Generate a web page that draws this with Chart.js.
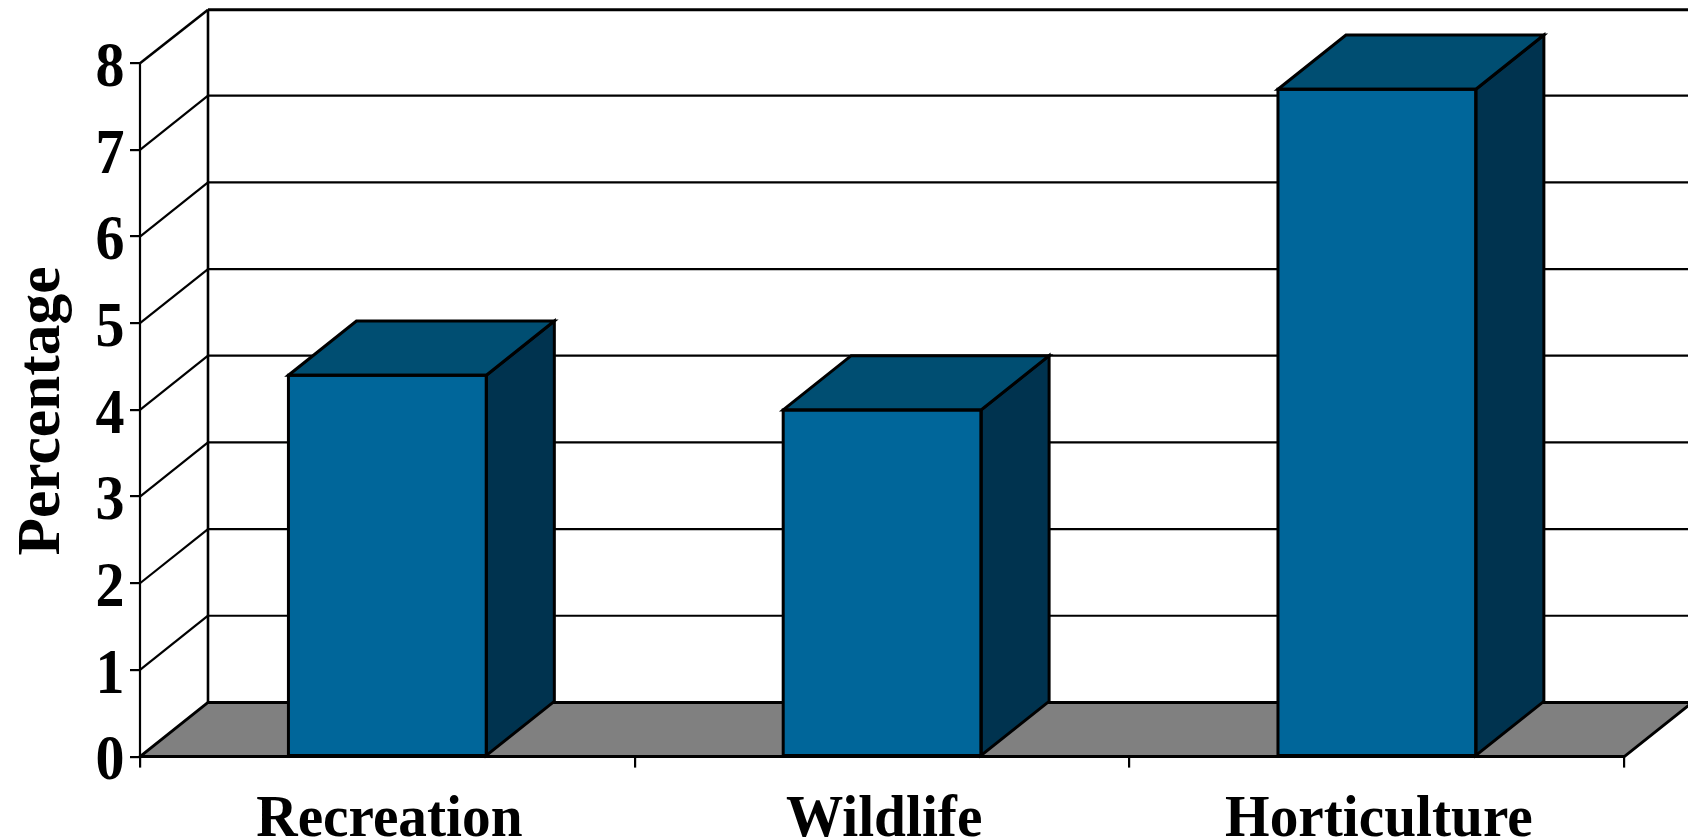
<!DOCTYPE html>
<html>
<head>
<meta charset="utf-8">
<title>Percentage by land use</title>
<script src="https://cdn.jsdelivr.net/npm/chart.js@4"></script>
<style>
  html, body { margin: 0; padding: 0; background: #fff; }
  canvas { display: block; }
</style>
</head>
<body>
<canvas id="useChart" width="1688" height="840"></canvas>
<script>
const categories = ['Recreation', 'Wildlife', 'Horticulture'];
const percentages = [4.4, 4.0, 7.7];
const yMax = 8;
const yStep = 1;
const yTitle = 'Percentage';

const FRONT = '#00669A';
const TOP = '#004E72';
const SIDE = '#00334F';
const FLOOR = '#808080';
const INK = '#000';
const SERIF = '"Liberation Serif"';

// how far the back wall sits behind the front plane
const DEPTH_X = 68;
const DEPTH_Y = 54.2;
const DEPTH_Y_CEILING = 53.5;

function poly(ctx, pts, fill, lw) {
  ctx.beginPath();
  pts.forEach((p, i) => i ? ctx.lineTo(p[0], p[1]) : ctx.moveTo(p[0], p[1]));
  ctx.closePath();
  if (fill) { ctx.fillStyle = fill; ctx.fill(); }
  ctx.lineWidth = lw;
  ctx.strokeStyle = INK;
  ctx.stroke();
}

function line(ctx, x1, y1, x2, y2, lw) {
  ctx.beginPath();
  ctx.moveTo(x1, y1);
  ctx.lineTo(x2, y2);
  ctx.lineWidth = lw;
  ctx.strokeStyle = INK;
  ctx.stroke();
}

// the label type runs a little taller than the font's own proportions
function tallText(ctx, text, x, y, size, stretch, align) {
  ctx.save();
  ctx.translate(x, y);
  ctx.scale(1, stretch);
  ctx.font = `bold ${size}px ${SERIF}`;
  ctx.fillStyle = INK;
  ctx.textAlign = align;
  ctx.textBaseline = 'alphabetic';
  ctx.fillText(text, 0, 0);
  ctx.restore();
}

const boxPlugin = {
  id: 'box3d',
  /* Back wall, side wall and floor */
  beforeDatasetsDraw(chart) {
    const { ctx, chartArea: a, scales: { y } } = chart;
    const W = chart.width;
    const backX = a.left + DEPTH_X;
    ctx.save();
    for (let v = yStep; v <= yMax; v += yStep) {
      const py = y.getPixelForValue(v);
      const top = v === yMax;
      const backY = py - (top ? DEPTH_Y_CEILING : DEPTH_Y);
      line(ctx, a.left, py, backX, backY, top ? 2.6 : 2.2);
      line(ctx, backX, backY, W, backY, top ? 3 : 2.2);
    }
    line(ctx, backX, a.top - DEPTH_Y_CEILING, backX, a.bottom - DEPTH_Y, 2.6);
    poly(ctx, [
      [a.left, a.bottom],
      [backX, a.bottom - DEPTH_Y],
      [a.right + DEPTH_X, a.bottom - DEPTH_Y],
      [a.right, a.bottom]
    ], FLOOR, 3);
    line(ctx, a.left, a.top, a.left, a.bottom, 2.2);
    ctx.restore();
  },
  /* Outline, top and side faces of each bar, taken from the bar elements */
  afterDatasetsDraw(chart) {
    const { ctx } = chart;
    ctx.save();
    ctx.lineJoin = 'miter';
    chart.getDatasetMeta(0).data.forEach(bar => {
      const { x, y, base, width } = bar.getProps(['x', 'y', 'base', 'width'], true);
      const l = x - width / 2;
      const r = x + width / 2;
      poly(ctx, [[r, y], [r + DEPTH_X, y - DEPTH_Y], [r + DEPTH_X, base - DEPTH_Y], [r, base]], SIDE, 3);
      poly(ctx, [[l, y], [l + DEPTH_X, y - DEPTH_Y], [r + DEPTH_X, y - DEPTH_Y], [r, y]], TOP, 3);
      poly(ctx, [[l, y], [r, y], [r, base], [l, base]], null, 3);
    });
    ctx.restore();
  },
  /* Axis text */
  afterDraw(chart) {
    const { ctx, scales: { x, y } } = chart;
    y.ticks.forEach((t, i) => {
      tallText(ctx, t.label, 124.6, y.getPixelForTick(i) + 22.7, 58, 1.1, 'right');
    });
    x.ticks.forEach((t, i) => {
      tallText(ctx, t.label, x.getPixelForTick(i) + 2, 836, 57.3, 1.04, 'center');
    });
    ctx.save();
    ctx.translate(59, 411);
    ctx.rotate(-Math.PI / 2);
    tallText(ctx, yTitle, 0, 0, 61.5, 1, 'center');
    ctx.restore();
  }
};

new Chart(document.getElementById('useChart'), {
  type: 'bar',
  data: {
    labels: categories,
    datasets: [{
      data: percentages,
      backgroundColor: FRONT,
      borderWidth: 0,
      barPercentage: 0.4,
      categoryPercentage: 1
    }]
  },
  plugins: [boxPlugin],
  options: {
    responsive: false,
    animation: false,
    layout: { padding: { top: 63.2, right: 63.7, left: 0, bottom: 0 } },
    plugins: { legend: { display: false }, tooltip: { enabled: false } },
    scales: {
      x: {
        afterFit: s => { s.height = 83.4; },
        border: { display: true, color: INK, width: 2.6 },
        grid: { drawOnChartArea: false, color: INK, lineWidth: 2.2, tickLength: 11 },
        ticks: { display: false, maxRotation: 0 }
      },
      y: {
        min: 0,
        max: yMax,
        afterFit: s => { s.width = 140; },
        border: { display: false },
        grid: { drawOnChartArea: false, color: INK, lineWidth: 2.2, tickLength: 10 },
        ticks: { display: false, stepSize: yStep }
      }
    }
  }
});
</script>
</body>
</html>
